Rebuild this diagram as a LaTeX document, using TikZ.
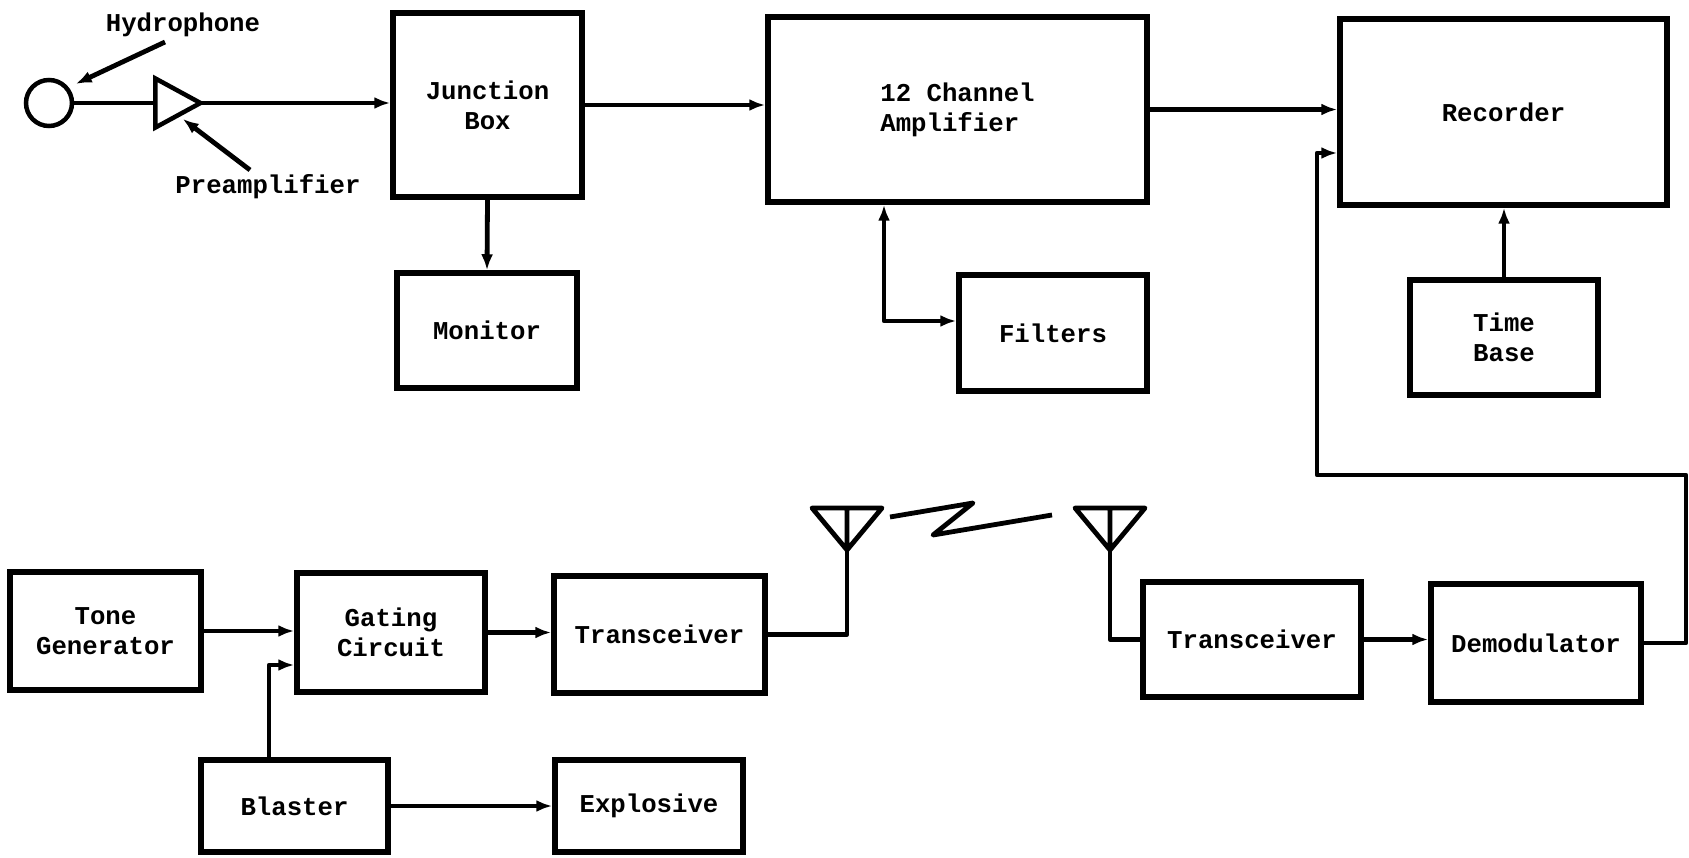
\documentclass[tikz,border=0pt]{standalone}
\usepackage{fontspec}
\setmainfont{Liberation Mono}
\usetikzlibrary{shapes.geometric,arrows.meta,calc}

\begin{document}
\begin{tikzpicture}[x=1pt,y=-1pt]
      \tikzstyle{blk}=[draw, line width=5.5pt, inner sep=0pt, align=center, font=\fontsize{25.7}{30}\selectfont\bfseries];
      \tikzstyle{wire}=[line width=4.8pt, line join=round];
      \tikzstyle{arr}=[wire, -{Latex[length=16pt,width=12pt]}];
      \tikzstyle{lbl}=[font=\fontsize{25.7}{30}\selectfont\bfseries, inner sep=0pt];

      \useasboundingbox (0,0) rectangle (1689,858);

      % pickup end
      \node[draw, circle, line width=4.5pt, minimum size=46pt, inner sep=0pt, outer sep=0pt] (hydro) at (49,103) {};
      \node[draw, isosceles triangle, isosceles triangle stretches, line width=4.5pt,
            minimum width=49pt, minimum height=45pt, inner sep=0pt, outer sep=0pt] (preamp) at (170,103) {};
      \node[lbl] (hlabel) at (183,25) {Hydrophone};
      \node[lbl] (plabel) at (268,187) {Preamplifier};
      \coordinate (htail) at (165,42);
      \coordinate (ptail) at (250,170);

      % upper chain
      \node[blk, minimum width=189pt, minimum height=184pt] (junction) at (487.5,105) {Junction\\Box};
      \node[blk, minimum width=180pt, minimum height=115pt] (monitor) at (487,330.5) {Monitor};
      \node[blk, align=left, minimum width=379pt, minimum height=185pt] (amp) at (957.5,109.5) {12 Channel\\Amplifier};
      \node[blk, minimum width=188pt, minimum height=116pt] (filters) at (1053,333) {Filters};
      \node[blk, minimum width=327pt, minimum height=186pt] (recorder) at (1503.5,112) {Recorder};
      \node[blk, minimum width=188pt, minimum height=115pt] (timebase) at (1504,337.5) {Time\\Base};

      % shot end
      \node[blk, minimum width=191pt, minimum height=118pt] (tonegen) at (105.5,631) {Tone\\Generator};
      \node[blk, minimum width=188pt, minimum height=119pt] (gating) at (391,632.5) {Gating\\Circuit};
      \node[blk, minimum width=187pt, minimum height=92pt] (blaster) at (294.5,806) {Blaster};
      \node[blk, minimum width=188pt, minimum height=92pt] (explosive) at (649,806) {Explosive};
      \node[blk, minimum width=211pt, minimum height=117pt] (trans1) at (659.5,634.5) {Transceiver};
      \node[blk, minimum width=218pt, minimum height=115pt] (trans2) at (1252,639.5) {Transceiver};
      \node[blk, minimum width=210pt, minimum height=118pt] (demod) at (1536,643) {Demodulator};

      \coordinate (ant1) at (847,550);
      \coordinate (ant2) at (1110,550);
      \coordinate (fbend) at (884,321);
      \coordinate (loopr) at (1686,475);
      \coordinate (loopl) at (1317,153);
      \coordinate (bbend) at (269,665);

      \draw[arr, shorten >=10pt] (htail) -- (hydro.40);
      \draw[arr, shorten >=6pt] (ptail) -- (preamp.right side);
      \draw[wire] (hydro.east) -- (preamp.west);
      \draw[arr] (preamp.apex) -- (preamp.apex -| junction.west);
      \draw[arr] (junction.east) -- (junction.east -| amp.west);
      \draw[arr] (amp.east) -- (amp.east -| recorder.west);
      \draw[arr] (junction.south) -- (monitor.north);
      \draw[wire, {Latex[length=16pt,width=12pt]}-{Latex[length=16pt,width=12pt]}] (fbend |- amp.south) -- (fbend) -- (fbend -| filters.west);
      \draw[arr] (timebase.north) -- (timebase.north |- recorder.south);
      \draw[arr] (demod.east) -| (loopr) -| (loopl) -- (loopl -| recorder.west);

      \draw[arr] (tonegen.east) -- (tonegen.east -| gating.west);
      \draw[arr] (bbend |- blaster.north) -- (bbend) -- (bbend -| gating.west);
      \draw[arr] (gating.east) -- (gating.east -| trans1.west);
      \draw[arr] (blaster.east) -- (explosive.west);
      \foreach \a in {ant1,ant2}
        \draw[wire] (\a) -- ++(-35,-42) -- ++(70,0) -- cycle (\a) -- ++(0,-42);
      \draw[wire] (trans1.east) -| (ant1);
      \draw[wire] (trans2.west) -| (ant2);
      \draw[wire] (890,517) -- (973,503) -- (933,535) -- (1052,515);
      \draw[arr] (trans2.east) -- (trans2.east -| demod.west);
\end{tikzpicture}
\end{document}
